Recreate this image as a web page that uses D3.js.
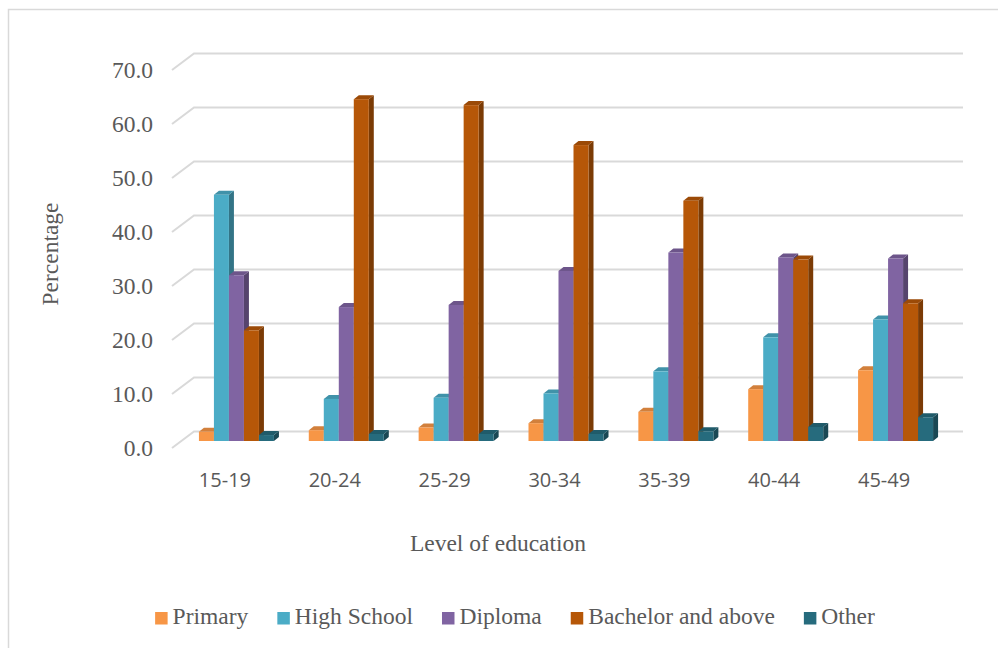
<!DOCTYPE html>
<html>
<head>
<meta charset="utf-8">
<script src="https://cdn.jsdelivr.net/npm/d3@7"></script>
<style>
  html, body { margin: 0; padding: 0; background: #fff; }
  svg { display: block; }
</style>
</head>
<body>
<svg id="chart" width="998" height="648"></svg>
<script>
const categories = ["15-19", "20-24", "25-29", "30-34", "35-39", "40-44", "45-49"];
const seriesNames = ["Primary", "High School", "Diploma", "Bachelor and above", "Other"];
const primary   = [1.7, 2.0, 2.5, 3.3, 5.4, 9.6, 13.1];
const highSchool = [45.6, 7.8, 8.0, 8.8, 12.9, 19.2, 22.5];
const diploma   = [30.7, 24.8, 25.2, 31.5, 34.9, 34.0, 33.8];
const bachelor  = [20.5, 63.3, 62.2, 54.8, 44.5, 33.6, 25.5];
const other     = [1.1, 1.3, 1.3, 1.3, 1.8, 2.6, 4.4];
const yTicks = [0, 10, 20, 30, 40, 50, 60, 70];
const colors = ["#F79646", "#4BACC6", "#8064A2", "#B65708", "#266B7D"];

const seriesValues = [primary, highSchool, diploma, bachelor, other];

const svg = d3.select("#chart");
const serif = "'Liberation Serif', 'Times New Roman', serif";
const textColor = "#595959";

// chart border
svg.append("rect")
  .attr("x", 8.5).attr("y", 9.5)
  .attr("width", 1100).attr("height", 800)
  .attr("fill", "#fff").attr("stroke", "#d9d9d9").attr("stroke-width", 1.5);

// 3D geometry (front plane of the floor, back wall offset)
const DX = 22, DY = -16.5;          // full depth offset
const BX = 9.5, BY = -7;            // bar front plane offset
const dX = 5, dY = -4;              // bar depth
const x = d3.scaleBand().domain(categories).range([172, 941]).paddingInner(0).paddingOuter(0);
const y = d3.scaleLinear().domain([0, 70]).range([448, 70]);
const inner = d3.scaleBand().domain(seriesNames).range([-37.5, 37.5]).padding(0);

// gridlines
const grid = svg.append("g");
yTicks.forEach(t => {
  const yf = y(t);
  grid.append("path")
    .attr("d", `M172,${yf} L${172 + DX},${yf + DY} L963,${yf + DY}`)
    .attr("fill", "none").attr("stroke", "#d9d9d9").attr("stroke-width", 2);
});

// y tick labels
svg.append("g").selectAll("text").data(yTicks).join("text")
  .attr("x", 153).attr("y", d => y(d))
  .attr("dy", "0.35em")
  .attr("text-anchor", "end")
  .attr("font-family", serif).attr("font-size", 23.5).attr("fill", textColor)
  .text(d => d3.format(".1f")(d));

// bars
const barsG = svg.append("g");
categories.forEach((cat, ci) => {
  const cx = x(cat) + x.bandwidth() / 2 + BX;
  seriesNames.forEach((s, si) => {
    const v = seriesValues[si][ci];
    const x0 = cx + inner(s);
    const w = inner.bandwidth();
    const y0 = y(0) + BY;
    const y1 = y(v) + BY;
    const c = d3.color(colors[si]);
    const g = barsG.append("g");
    // side face
    g.append("path")
      .attr("d", `M${x0 + w},${y1} L${x0 + w + dX},${y1 + dY} L${x0 + w + dX},${y0 + dY} L${x0 + w},${y0} Z`)
      .attr("fill", c.darker(1.1).formatHex());
    // top face
    g.append("path")
      .attr("d", `M${x0},${y1} L${x0 + dX},${y1 + dY} L${x0 + w + dX},${y1 + dY} L${x0 + w},${y1} Z`)
      .attr("fill", c.darker(0.45).formatHex());
    // front face
    g.append("rect")
      .attr("x", x0).attr("y", y1)
      .attr("width", w).attr("height", y0 - y1)
      .attr("fill", colors[si]);
  });
});

// category labels
svg.append("g").selectAll("text").data(categories).join("text")
  .attr("x", d => x(d) + x.bandwidth() / 2 - 2)
  .attr("y", 487)
  .attr("text-anchor", "middle")
  .attr("font-family", "'Open Sans', sans-serif").attr("font-size", 20).attr("fill", textColor)
  .text(d => d);

// axis titles
svg.append("text")
  .attr("x", 498).attr("y", 551)
  .attr("text-anchor", "middle")
  .attr("font-family", serif).attr("font-size", 23.5).attr("fill", textColor)
  .text("Level of education");

svg.append("text")
  .attr("transform", "translate(58,254) rotate(-90)")
  .attr("text-anchor", "middle")
  .attr("font-family", serif).attr("font-size", 23.5).attr("fill", textColor)
  .text("Percentage");

// legend
const legend = svg.append("g");
const items = seriesNames.map((s, i) => {
  const g = legend.append("g");
  g.append("rect").attr("x", 0).attr("y", -12).attr("width", 12.5).attr("height", 12.5).attr("fill", colors[i]);
  const t = g.append("text").attr("x", 17.5).attr("y", 0)
    .attr("font-family", serif).attr("font-size", 23.5).attr("fill", textColor).text(s);
  return { g, w: 17.5 + t.node().getComputedTextLength() };
});
const gap = 29;
const total = d3.sum(items, d => d.w) + gap * (items.length - 1);
let lx = 515 - total / 2;
items.forEach(it => {
  it.g.attr("transform", `translate(${lx},${624})`);
  lx += it.w + gap;
});
</script>
</body>
</html>
